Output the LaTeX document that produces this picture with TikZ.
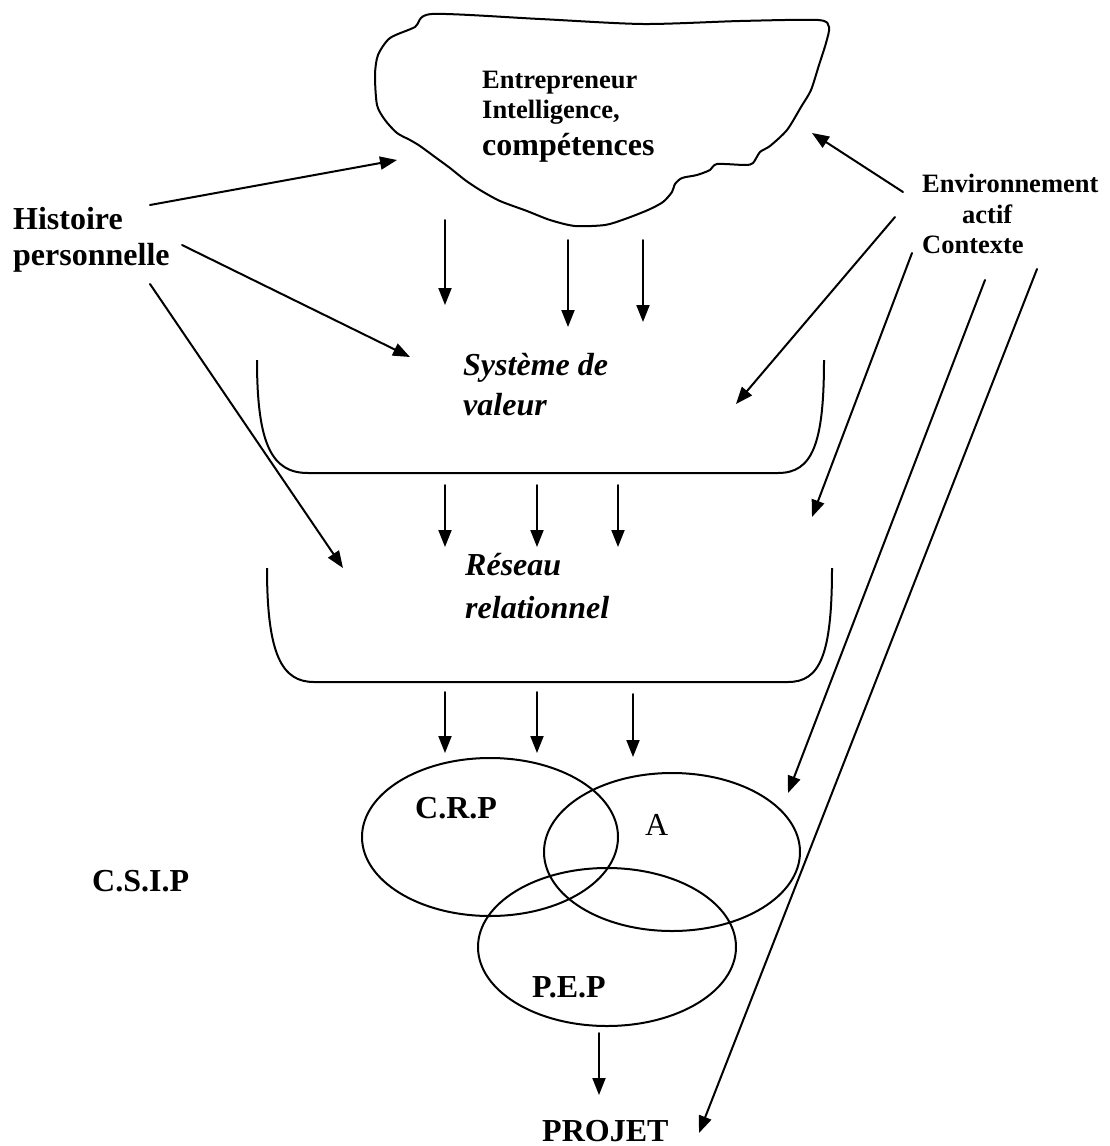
\documentclass[tikz,border=0pt]{standalone}
\usepackage{fontspec}
\setmainfont{Liberation Serif}
\usetikzlibrary{arrows.meta}

\tikzset{
  big/.style={inner sep=0pt, anchor=base west, font=\bfseries\fontsize{32}{37}\selectfont},
  small/.style={inner sep=0pt, anchor=base west, font=\bfseries\fontsize{26.5}{30}\selectfont},
  slant/.style={inner sep=0pt, anchor=base west, font=\bfseries\itshape\fontsize{32}{37}\selectfont},
  plainbig/.style={inner sep=0pt, anchor=base west, font=\fontsize{32}{37}\selectfont},
  stroke/.style={line width=2pt, line cap=round, line join=round},
  arr/.style={stroke, -{Triangle[length=17pt,width=13pt]}},
  cup/.style={line width=2pt},
  venn/.style={line width=2pt},
}

\begin{document}
\begin{tikzpicture}[x=1pt,y=-1pt]
\useasboundingbox[fill=white] (0,0) rectangle (1110,1146);

% ---- cloud: the entrepreneur ----
\draw[stroke] plot[smooth cycle, tension=0.45] coordinates {
  (432,14) (540,19) (643,24) (740,21) (818,20) (829,27) (826,43) (819,65)
  (811,90) (801,107) (787,130) (770,146) (760,152) (753,163) (745,165)
  (717,164) (710,170) (697,175) (682,178) (675,184) (672,192) (663,202)
  (648,210) (625,219) (605,225) (575,226) (550,220) (527,211) (500,201)
  (480,190) (465,180) (450,168) (435,157) (420,146) (410,140) (397,133)
  (385,120) (377,105) (375,75) (378,55) (390,38) (415,27)};
\node[small] (ent1) at (482,88) {Entrepreneur};
\node[small] (ent2) at (482,118) {Intelligence,};
\node[big]   (ent3) at (482,155) {compétences};

% ---- side labels ----
\node[big] (hist1) at (13,229) {Histoire};
\node[big] (hist2) at (13,265) {personnelle};
\node[small] (env1) at (922,192) {Environnement};
\node[small] (env2) at (962,223) {actif};
\node[small] (env3) at (922,253) {Contexte};
\node[big] (csip) at (92,891) {C.S.I.P};

% ---- first cup: value system ----
\draw[cup] (257,360) .. controls (257,445) and (272,473) .. (308,473)
  -- (778,473) .. controls (812,473) and (824,445) .. (824,360);
\node[slant] (sys1) at (463,375) {Système de};
\node[slant] (sys2) at (463,415) {valeur};

% ---- second cup: relational network ----
\draw[cup] (267,568) .. controls (267,655) and (282,682) .. (314,682)
  -- (788,682) .. controls (820,682) and (832,655) .. (832,568);
\node[slant] (res1) at (465,575) {Réseau};
\node[slant] (res2) at (465,618) {relationnel};

% ---- three overlapping circles ----
\draw[venn] (490,837) ellipse [x radius=128, y radius=79];
\draw[venn] (672,852) ellipse [x radius=128, y radius=79];
\draw[venn] (607,947) ellipse [x radius=129, y radius=79];
\node[big] (crp) at (415,818) {C.R.P};
\node[plainbig] (a) at (645,835) {A};
\node[big] (pep) at (532,997) {P.E.P};
\node[big] (projet) at (542,1141) {PROJET};

% ---- connector end points ----
\coordinate (h1s) at (150,205);  \coordinate (h1e) at (397,160);
\coordinate (h2s) at (182,245);  \coordinate (h2e) at (410,357);
\coordinate (h3s) at (150,284);  \coordinate (h3e) at (343,568);

\coordinate (e1s) at (903,192);  \coordinate (e1e) at (812,133);
\coordinate (e2s) at (895,217);  \coordinate (e2e) at (736,404);
\coordinate (e3s) at (912,253);  \coordinate (e3e) at (812,517);
\coordinate (e4s) at (985,280);  \coordinate (e4e) at (788,793);
\coordinate (e5s) at (1037,269); \coordinate (e5e) at (699,1133);

\coordinate (c1s) at (445,220);  \coordinate (c1e) at (445,305);
\coordinate (c2s) at (568,240);  \coordinate (c2e) at (568,327);
\coordinate (c3s) at (643,240);  \coordinate (c3e) at (643,322);

\coordinate (s1s) at (445,485);  \coordinate (s1e) at (445,547);
\coordinate (s2s) at (537,485);  \coordinate (s2e) at (537,547);
\coordinate (s3s) at (618,485);  \coordinate (s3e) at (618,547);

\coordinate (r1s) at (445,692);  \coordinate (r1e) at (445,753);
\coordinate (r2s) at (537,692);  \coordinate (r2e) at (537,753);
\coordinate (r3s) at (633,694);  \coordinate (r3e) at (633,757);

\coordinate (ps) at (599,1033);  \coordinate (pe) at (599,1095);

% ---- personal history influences ----
\draw[arr] (h1s) -- (h1e);
\draw[arr] (h2s) -- (h2e);
\draw[arr] (h3s) -- (h3e);

% ---- environment influences ----
\draw[arr] (e1s) -- (e1e);
\draw[arr] (e2s) -- (e2e);
\draw[arr] (e3s) -- (e3e);
\draw[arr] (e4s) -- (e4e);
\draw[arr] (e5s) -- (e5e);

% ---- downward flow ----
\foreach \p in {c1,c2,c3,s1,s2,s3,r1,r2,r3} {
  \draw[arr] (\p s) -- (\p e);
}
\draw[arr] (ps) -- (pe);
\end{tikzpicture}
\end{document}
